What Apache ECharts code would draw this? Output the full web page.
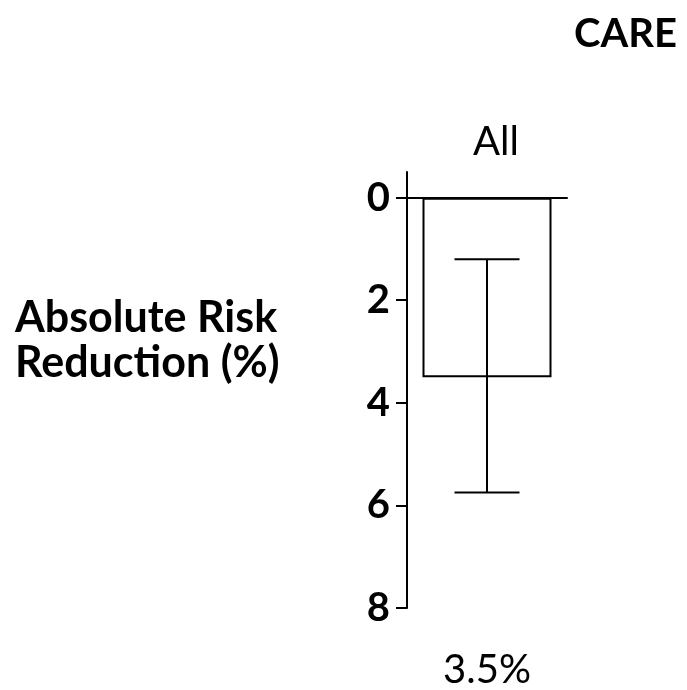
<!DOCTYPE html>
<html>
<head>
<meta charset="utf-8">
<script src="https://cdn.jsdelivr.net/npm/echarts@6/dist/echarts.min.js"></script>
<style>
  html, body { margin: 0; padding: 0; background: #fff; }
  #chart { width: 687px; height: 690px; }
</style>
</head>
<body>
<div id="chart"></div>
<script>
// Absolute risk reduction, CARE trial
const categories = ['All'];
const reduction = [3.5];          // bar height (%)
const ciLow = [1.2];              // lower bound of interval (%)
const ciHigh = [5.75];            // upper bound of interval (%)
const yTicks = [0, 2, 4, 6, 8];

const FONT = 'Lato, "Open Sans", sans-serif';

const chart = echarts.init(document.getElementById('chart'), null, { renderer: 'canvas' });

chart.setOption({
  animation: false,
  backgroundColor: '#ffffff',
  title: {
    text: 'CARE',
    right: 5,
    top: 9,
    textStyle: { fontFamily: FONT, fontSize: 40, fontWeight: 'bold', color: '#000' }
  },
  graphic: [{
    type: 'text',
    left: 15,
    top: 296,
    style: {
      text: 'Absolute Risk\nReduction (%)',
      font: 'bold 43px ' + FONT,
      lineHeight: 45,
      fill: '#000'
    }
  }],
  grid: { left: 407, top: 172, width: 160, bottom: 80, containLabel: false },
  xAxis: [{
    type: 'category',
    data: categories,
    position: 'top',
    axisLine: { onZero: true, lineStyle: { color: '#000', width: 2 } },
    axisTick: { show: false },
    axisLabel: {
      margin: 10,
      padding: [0, 0, 0, 18],
      fontFamily: FONT, fontSize: 40, color: '#000'
    }
  }, {
    // value label under the axis
    type: 'category',
    data: reduction.map(v => v + '%'),
    position: 'bottom',
    axisLine: { show: false, onZero: false },
    axisTick: { show: false },
    axisLabel: {
      margin: 42,
      fontFamily: FONT, fontSize: 40, color: '#000'
    }
  }],
  yAxis: {
    type: 'value',
    inverse: true,
    min: -0.5,
    max: 8,
    splitLine: { show: false },
    axisLine: { show: true, lineStyle: { color: '#000', width: 2 } },
    axisTick: {
      show: true, length: 11, inside: false,
      customValues: yTicks,
      lineStyle: { color: '#000', width: 2 }
    },
    axisLabel: {
      customValues: yTicks,
      margin: 17,
      fontFamily: FONT, fontSize: 40, fontWeight: 'bold', color: '#000'
    }
  },
  series: [{
    type: 'bar',
    data: reduction,
    barWidth: 129,
    itemStyle: { color: 'rgba(255,255,255,0)', borderColor: '#000', borderWidth: 2 },
    z: 3
  }, {
    type: 'custom',
    data: categories.map((c, i) => [i, ciLow[i], ciHigh[i]]),
    renderItem: function (params, api) {
      const x = api.value(0);
      const top = api.coord([x, api.value(1)]);
      const bot = api.coord([x, api.value(2)]);
      const half = 32.5;
      const s = { stroke: '#000', lineWidth: 2 };
      return {
        type: 'group',
        children: [
          { type: 'line', shape: { x1: top[0], y1: top[1], x2: bot[0], y2: bot[1] }, style: s },
          { type: 'line', shape: { x1: top[0] - half, y1: top[1], x2: top[0] + half, y2: top[1] }, style: s },
          { type: 'line', shape: { x1: bot[0] - half, y1: bot[1], x2: bot[0] + half, y2: bot[1] }, style: s }
        ]
      };
    },
    z: 4
  }]
});
</script>
</body>
</html>
